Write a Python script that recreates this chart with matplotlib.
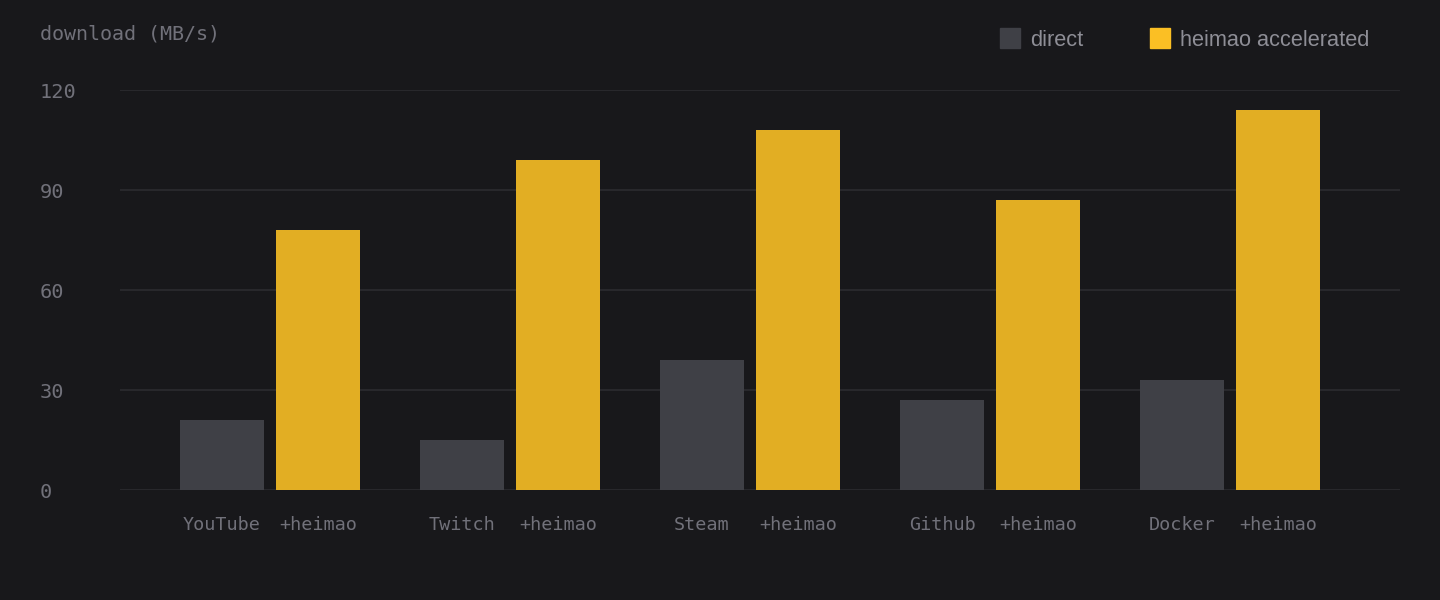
import matplotlib
matplotlib.use("Agg")
import matplotlib.pyplot as plt
import matplotlib.transforms as mtransforms
import numpy as np
from matplotlib.patches import Rectangle


# =========================
# DATOS
# =========================

SERVICES = ["YouTube", "Twitch", "Steam", "Github", "Docker"]
DIRECT = [21, 15, 39, 27, 33]
HEIMAO = [78, 99, 108, 87, 114]
Y_TICKS = [0, 30, 60, 90, 120]

# =========================
# ESTILO
# =========================

BG = "#18181b"
GRID = "#28282c"
DIRECT_COLOR = "#3f4046"
HEIMAO_COLOR = "#e2ae23"
LEGEND_HEIMAO = "#fbbf24"
TEXT = "#71717a"
LEGEND_TEXT = "#8e8e96"
MONO = "DejaVu Sans Mono"
SANS = "Liberation Sans"

W, H = 1440, 600
BAR_W = 0.35
OFFSET = 0.2


def main() -> None:
    fig = plt.figure(figsize=(W / 100, H / 100), dpi=100, facecolor=BG)
    ax = fig.add_axes([120 / W, 110 / H, 1280 / W, 400 / H], facecolor=BG)

    x = np.arange(len(SERVICES))
    ax.bar(x - OFFSET, DIRECT, width=BAR_W, color=DIRECT_COLOR, zorder=3)
    ax.bar(x + OFFSET, HEIMAO, width=BAR_W, color=HEIMAO_COLOR, zorder=3)

    ax.set_xlim(-0.625, -0.625 + 1280 / 240)
    ax.set_ylim(0, 120)

    ax.set_yticks(Y_TICKS)
    ax.set_yticklabels([str(v) for v in Y_TICKS], fontfamily=MONO, fontsize=14.6, color=TEXT)
    ax.tick_params(axis="y", length=0, pad=57.6)
    # etiquetas y alineadas a la izquierda y bajadas ~3 px
    shift = mtransforms.ScaledTranslation(0, -3 / 100, fig.dpi_scale_trans)
    for lab in ax.get_yticklabels():
        lab.set_horizontalalignment("left")
        lab.set_verticalalignment("center")
        lab.set_transform(lab.get_transform() + shift)

    tick_pos = np.concatenate([x - OFFSET, x + OFFSET])
    tick_lab = SERVICES + ["+heimao"] * len(SERVICES)
    ax.set_xticks(tick_pos)
    ax.set_xticklabels(tick_lab, fontfamily=MONO, fontsize=13.3, color=TEXT)
    ax.tick_params(axis="x", length=0, pad=18.5)

    for v in Y_TICKS:
        ax.axhline(v, color=GRID, linewidth=1.5, zorder=1)

    for s in ax.spines.values():
        s.set_visible(False)

    fig.text(40 / W, 1 - 34 / H, "download (MB/s)", fontfamily=MONO, fontsize=14.4,
             color=TEXT, ha="left", va="center")

    # leyenda manual
    items = [("direct", DIRECT_COLOR, 1000), ("heimao accelerated", LEGEND_HEIMAO, 1150)]
    for label, color, px in items:
        fig.patches.append(Rectangle((px / W, 1 - 48 / H), 20 / W, 20 / H,
                                     transform=fig.transFigure, color=color))
        fig.text((px + 30) / W, 1 - 40 / H, label, fontfamily=SANS, fontsize=15.7,
                 color=LEGEND_TEXT, ha="left", va="center")

    fig.savefig("out.png", dpi=100, facecolor=BG)


if __name__ == "__main__":
    main()
